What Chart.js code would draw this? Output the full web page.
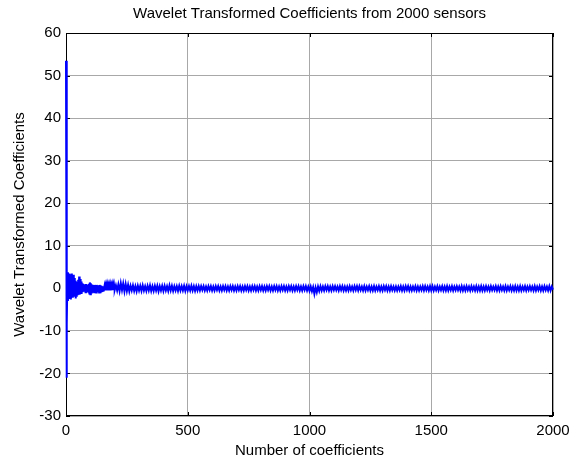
<!DOCTYPE html>
<html>
<head>
<meta charset="utf-8">
<title>Wavelet Transformed Coefficients</title>
<script src="https://cdn.jsdelivr.net/npm/chart.js@4"></script>
<style>
  body { margin: 0; background: #fff; }
  canvas { display: block; }
</style>
</head>
<body>
<canvas id="wavelet" width="581" height="462"></canvas>
<script>
// first 200 coefficients, read every 2nd index
const earlyStart = 0;
const earlyStep = 2;
const earlyValues = [
  53.5, -21, -8.5, 3.8, -3, 3.5, -2.5,
  2.8, -2, 3.3, -2.6, 3.5, -1.5, 2.6, -2.2, 3.2,
  -2, 2.4, -1.2, 1.8, -2.4, 1.5, -2, 1.2, -1.6, 2,
  -1.2, 2.8, -1.5, 2.2, -1, 1.6, -1.3, 1.2, -0.9, 1,
  -0.8, 0.9, -0.7, 0.8, -0.9, 1, -0.6, 0.8, -0.7, 0.9,
  -0.8, 1.1, -1.2, 1.4, -1.4, 1.2, -1, 0.9, -0.8, 0.8,
  -0.7, 0.7, -0.9, 0.8, -0.6, 0.7, -1, 0.8, -0.7, 0.6,
  -0.6, 0.7, -1, 0.8, -0.9, 0.7, -0.7, 0.6, -0.6, 0.5,
  -0.5, 0.45, -0.4, 0.5, -0.45, 0.4, -0.5, 0.45, -0.4, 0.5,
  -0.45, 0.4, -0.5, 0.45, -0.4, 0.5, -0.45, 0.4, -0.45, 0.5,
  -0.4, 0.5, -0.45, 0.5, -0.4
];

// rest of the band, read every 5th index
const lateStart = 205;
const lateStep = 5;
const lateValues = [
  0.7, -0.5, 0.9, -0.6, 1.2, -0.4, 1.1, -0.7, 1.0, -0.6,
  0.8, -0.7, 0.6, -0.5, 0.7, -0.6, 0.5, -0.7, 0.6, -0.5,
  0.6, -0.6, 0.7, -0.5, 0.5, -0.6, 0.6, -0.5, 0.7, -0.6,
  0.5, -0.6, 0.6, -0.5, 0.6, -0.7, 0.5, -0.5, 0.6, -0.6,
  0.6, -0.5, 0.5, -0.6, 0.7, -0.5, 0.6, -0.6, 0.5, -0.5,
  0.5, -0.6, 0.6, -0.5, 0.5, -0.5, 0.6, -0.6, 0.5, -0.5,
  0.5, -0.5, 0.6, -0.5, 0.5, -0.6, 0.5, -0.5, 0.5, -0.5,
  0.5, -0.4, 0.5, -0.5, 0.4, -0.5, 0.5, -0.4, 0.5, -0.5,
  0.4, -0.5, 0.5, -0.4, 0.5, -0.5, 0.4, -0.5, 0.5, -0.4,
  0.5, -0.5, 0.4, -0.5, 0.5, -0.4, 0.5, -0.5, 0.4, -0.5,
  0.5, -0.4, 0.5, -0.5, 0.4, -0.5, 0.5, -0.4, 0.5, -0.5,
  0.4, -0.5, 0.5, -0.4, 0.5, -0.5, 0.4, -0.5, 0.5, -0.4,
  0.5, -0.5, 0.4, -0.5, 0.5, -0.4, 0.5, -0.5, 0.4, -0.5,
  0.5, -0.4, 0.5, -0.5, 0.4, -0.5, 0.5, -0.4, 0.5, -0.5,
  0.4, -0.5, 0.5, -0.4, 0.5, -0.5, 0.4, -0.5, 0.5, -0.4,
  0.5, -0.5, 0.4, -0.5, 0.5, -0.4, 0.5, -0.5, 0.4, -0.6,
  0.4, -0.7, 0.3, -1.3, 0.2, -0.9, 0.4, -0.6, 0.5, -0.5,
  0.4, -0.5, 0.5, -0.4, 0.5, -0.5, 0.4, -0.5, 0.5, -0.4,
  0.5, -0.4, 0.4, -0.5, 0.5, -0.4, 0.5, -0.5, 0.4, -0.5,
  0.4, -0.5, 0.5, -0.4, 0.4, -0.5, 0.5, -0.4, 0.5, -0.5,
  0.5, -0.4, 0.4, -0.5, 0.5, -0.5, 0.4, -0.4, 0.5, -0.5,
  0.4, -0.5, 0.5, -0.5, 0.4, -0.4, 0.5, -0.5, 0.4, -0.5,
  0.5, -0.4, 0.5, -0.5, 0.4, -0.5, 0.5, -0.4, 0.4, -0.5,
  0.4, -0.5, 0.4, -0.4, 0.5, -0.5, 0.4, -0.5, 0.5, -0.4,
  0.5, -0.5, 0.4, -0.5, 0.4, -0.4, 0.5, -0.5, 0.4, -0.5,
  0.4, -0.4, 0.5, -0.5, 0.5, -0.4, 0.4, -0.5, 0.5, -0.5,
  0.5, -0.5, 0.4, -0.4, 0.5, -0.5, 0.4, -0.4, 0.5, -0.5,
  0.4, -0.5, 0.5, -0.5, 0.4, -0.4, 0.5, -0.5, 0.4, -0.4,
  0.5, -0.4, 0.4, -0.5, 0.5, -0.5, 0.4, -0.5, 0.5, -0.4,
  0.4, -0.5, 0.5, -0.4, 0.4, -0.5, 0.5, -0.5, 0.4, -0.5,
  0.5, -0.5, 0.4, -0.5, 0.5, -0.4, 0.4, -0.5, 0.5, -0.4,
  0.4, -0.4, 0.5, -0.5, 0.4, -0.5, 0.5, -0.4, 0.4, -0.5,
  0.5, -0.5, 0.4, -0.4, 0.5, -0.5, 0.4, -0.5, 0.5, -0.5,
  0.4, -0.5, 0.5, -0.5, 0.4, -0.4, 0.5, -0.5, 0.4, -0.4,
  0.5, -0.4, 0.4, -0.5, 0.5, -0.5, 0.4, -0.4, 0.5, -0.5,
  0.4, -0.5, 0.5, -0.4, 0.4, -0.5, 0.5, -0.5, 0.4, -0.3
];

const xTicks = [0, 500, 1000, 1500, 2000];
const yTicks = [-30, -20, -10, 0, 10, 20, 30, 40, 50, 60];

let points = [];
earlyValues.forEach((v, i) => points.push({ x: earlyStart + i * earlyStep, y: v }));
lateValues.forEach((v, i) => points.push({ x: lateStart + i * lateStep, y: v }));

const font = { family: "'Liberation Sans', Arial, sans-serif", size: 15 };

// matlab style box with inward ticks, drawn under the line
const boxPlugin = {
  id: "box",
  beforeDatasetsDraw(chart) {
    const ctx = chart.ctx;
    const a = chart.chartArea;
    const xs = chart.scales.x;
    const ys = chart.scales.y;
    ctx.save();
    ctx.strokeStyle = "#000";
    ctx.lineWidth = 1;
    ctx.strokeRect(a.left + 0.5, a.top + 0.5, a.right - a.left - 1, a.bottom - a.top - 1);
    ctx.beginPath();
    xTicks.forEach((t) => {
      const px = Math.round(xs.getPixelForValue(t)) + 0.5;
      ctx.moveTo(px, a.bottom); ctx.lineTo(px, a.bottom - 4);
      ctx.moveTo(px, a.top); ctx.lineTo(px, a.top + 4);
    });
    yTicks.forEach((t) => {
      const py = Math.round(ys.getPixelForValue(t)) + 0.5;
      ctx.moveTo(a.left, py); ctx.lineTo(a.left + 4, py);
      ctx.moveTo(a.right, py); ctx.lineTo(a.right - 4, py);
    });
    ctx.stroke();
    ctx.restore();
  },
};

new Chart(document.getElementById("wavelet"), {
  type: "line",
  data: {
    datasets: [
      {
        data: points,
        borderColor: "#0000ff",
        borderWidth: 2,
        pointRadius: 0,
        tension: 0,
        fill: false,
        clip: false,
      },
    ],
  },
  options: {
    responsive: false,
    animation: false,
    layout: { padding: { left: 0, right: 28, top: 0, bottom: 0 } },
    plugins: {
      legend: { display: false },
      tooltip: { enabled: false },
      title: {
        display: true,
        fullSize: false,
        text: "Wavelet Transformed Coefficients from 2000 sensors",
        color: "#000",
        font: { ...font, weight: "normal" },
        padding: { top: 5, bottom: 10 },
      },
    },
    scales: {
      x: {
        type: "linear",
        min: 0,
        max: 2000,
        afterBuildTicks: (s) => { s.ticks = xTicks.map((v) => ({ value: v })); },
        afterFit: (s) => { s.height = 46; },
        ticks: { color: "#000", font: font, padding: 6, maxRotation: 0, callback: (v) => String(v) },
        grid: { color: "#a8a8a8", drawTicks: false },
        border: { display: false },
        title: {
          display: true,
          text: "Number of coefficients",
          color: "#000",
          font: font,
          padding: { top: 0, bottom: 2 },
        },
      },
      y: {
        min: -30,
        max: 60,
        afterBuildTicks: (s) => { s.ticks = yTicks.map((v) => ({ value: v })); },
        afterFit: (s) => { s.width = 66; },
        ticks: { color: "#000", font: font, padding: 5, callback: (v) => String(v) },
        grid: { color: "#a8a8a8", drawTicks: false },
        border: { display: false },
        title: {
          display: true,
          text: "Wavelet Transformed Coefficients",
          color: "#000",
          font: font,
          padding: { top: 11, bottom: 0 },
        },
      },
    },
  },
  plugins: [boxPlugin],
});
</script>
</body>
</html>
